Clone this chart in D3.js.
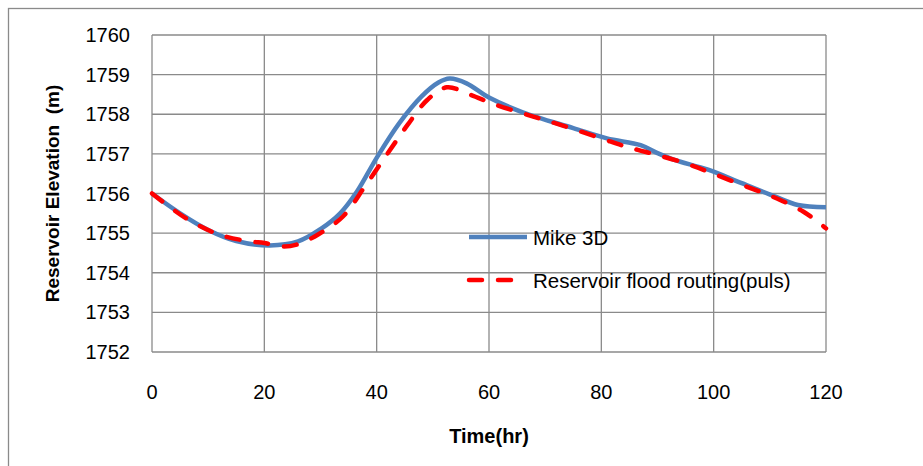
<!DOCTYPE html>
<html>
<head>
<meta charset="utf-8">
<script src="https://cdn.jsdelivr.net/npm/d3@7"></script>
<style>
    body { margin: 0; background: #fff; }
    svg { display: block; font-family: "Liberation Sans", Arial, sans-serif; }
    .grid line { stroke: #8a8a8a; stroke-width: 1.3; }
    .tick-label { font-size: 20px; fill: #000; }
    .axis-title { font-size: 19px; font-weight: bold; fill: #000; }
    .legend-label { font-size: 20.5px; fill: #000; }
</style>
</head>
<body>
<svg width="923" height="466"></svg>
<script>
// Time axis (hr) and tick values.
var xTicks = [0, 20, 40, 60, 80, 100, 120];
var yTicks = [1752, 1753, 1754, 1755, 1756, 1757, 1758, 1759, 1760];

// Mike 3D series.
var mikeTime = [0, 5, 10, 15, 21, 26, 30, 33.5, 36.5, 40, 44, 48, 51, 53, 56, 60, 66, 75, 81, 87, 90, 93, 99, 105, 111, 115, 120];
var mikeLevel = [1756.0, 1755.5, 1755.08, 1754.8, 1754.69, 1754.79, 1755.1, 1755.5, 1756.05, 1756.9, 1757.77, 1758.45, 1758.8, 1758.9, 1758.78, 1758.42, 1758.05, 1757.65, 1757.39, 1757.22, 1757.02, 1756.85, 1756.6, 1756.26, 1755.92, 1755.71, 1755.65];

// Reservoir flood routing (puls) series.
var pulsTime = [0, 6, 12, 17.5, 20, 23.5, 26, 29.5, 34, 38, 42, 45.5, 49, 52.5, 56.5, 61, 67, 73, 80, 84, 86.5, 90, 95, 99, 105, 110.5, 116, 120];
var pulsLevel = [1756.0, 1755.38, 1754.96, 1754.79, 1754.75, 1754.66, 1754.72, 1754.96, 1755.42, 1756.2, 1757.02, 1757.73, 1758.36, 1758.68, 1758.5, 1758.25, 1757.98, 1757.72, 1757.39, 1757.2, 1757.1, 1756.97, 1756.76, 1756.55, 1756.22, 1755.92, 1755.54, 1755.12];

var seriesNames = ["Mike 3D", "Reservoir flood routing(puls)"];

var svg = d3.select("svg");

// Outer chart frame, cut off at the right and bottom edges.
svg.append("rect")
    .attr("x", 8.5)
    .attr("y", 8.5)
    .attr("width", 1000)
    .attr("height", 1000)
    .attr("fill", "none")
    .attr("stroke", "#8a8a8a")
    .attr("stroke-width", 1.3);

var plot = { left: 152, right: 826, top: 35, bottom: 352 };

var x = d3.scaleLinear().domain([0, 120]).range([plot.left, plot.right]);
var y = d3.scaleLinear().domain([1752, 1760]).range([plot.bottom, plot.top]);

// Grid lines, including the plot frame.
var grid = svg.append("g").attr("class", "grid");
grid.selectAll(".hline")
    .data(yTicks)
    .enter().append("line")
    .attr("x1", plot.left)
    .attr("x2", plot.right)
    .attr("y1", function(d) { return y(d); })
    .attr("y2", function(d) { return y(d); });
grid.selectAll(".vline")
    .data(xTicks)
    .enter().append("line")
    .attr("y1", plot.top)
    .attr("y2", plot.bottom)
    .attr("x1", function(d) { return x(d); })
    .attr("x2", function(d) { return x(d); });

// Tick labels.
svg.append("g").selectAll("text")
    .data(yTicks)
    .enter().append("text")
    .attr("class", "tick-label")
    .attr("x", plot.left - 22)
    .attr("y", function(d) { return y(d); })
    .attr("text-anchor", "end")
    .attr("dominant-baseline", "central")
    .text(function(d) { return d; });

svg.append("g").selectAll("text")
    .data(xTicks)
    .enter().append("text")
    .attr("class", "tick-label")
    .attr("x", function(d) { return x(d); })
    .attr("y", 392)
    .attr("text-anchor", "middle")
    .attr("dominant-baseline", "central")
    .text(function(d) { return d; });

// Axis titles.
svg.append("text")
    .attr("class", "axis-title")
    .attr("transform", "translate(52," + ((plot.top + plot.bottom) / 2) + ") rotate(-90)")
    .attr("text-anchor", "middle")
    .attr("dominant-baseline", "central")
    .attr("xml:space", "preserve")
    .style("white-space", "pre")
    .text("Reservoir Elevation  (m)");

svg.append("text")
    .attr("class", "axis-title")
    .style("font-size", "20px")
    .attr("x", (plot.left + plot.right) / 2)
    .attr("y", 436)
    .attr("text-anchor", "middle")
    .attr("dominant-baseline", "central")
    .text("Time(hr)");

var line = d3.line()
    .x(function(d) { return x(d[0]); })
    .y(function(d) { return y(d[1]); })
    .curve(d3.curveCatmullRom.alpha(0.5));

svg.append("path")
    .datum(d3.zip(mikeTime, mikeLevel))
    .attr("fill", "none")
    .attr("stroke", "#4f81bd")
    .attr("stroke-width", 4.5)
    .attr("stroke-linejoin", "round")
    .attr("d", line);

svg.append("path")
    .datum(d3.zip(pulsTime, pulsLevel))
    .attr("fill", "none")
    .attr("stroke", "#ff0000")
    .attr("stroke-width", 4.5)
    .attr("stroke-linecap", "round")
    .attr("stroke-dasharray", "13,16")
    .attr("d", line);

// Legend inside the plot.
var legendY = [237, 280];
var legend = svg.append("g");
legend.append("line")
    .attr("x1", 469).attr("x2", 527)
    .attr("y1", legendY[0]).attr("y2", legendY[0])
    .attr("stroke", "#4f81bd")
    .attr("stroke-width", 4.5);
legend.append("line")
    .attr("x1", 469).attr("x2", 527)
    .attr("y1", legendY[1]).attr("y2", legendY[1])
    .attr("stroke", "#ff0000")
    .attr("stroke-width", 4.5)
    .attr("stroke-linecap", "round")
    .attr("stroke-dasharray", "13,16");
legend.selectAll("text")
    .data(seriesNames)
    .enter().append("text")
    .attr("class", "legend-label")
    .attr("x", 533)
    .attr("y", function(d, i) { return legendY[i]; })
    .attr("dominant-baseline", "central")
    .text(function(d) { return d; });
</script>
</body>
</html>
